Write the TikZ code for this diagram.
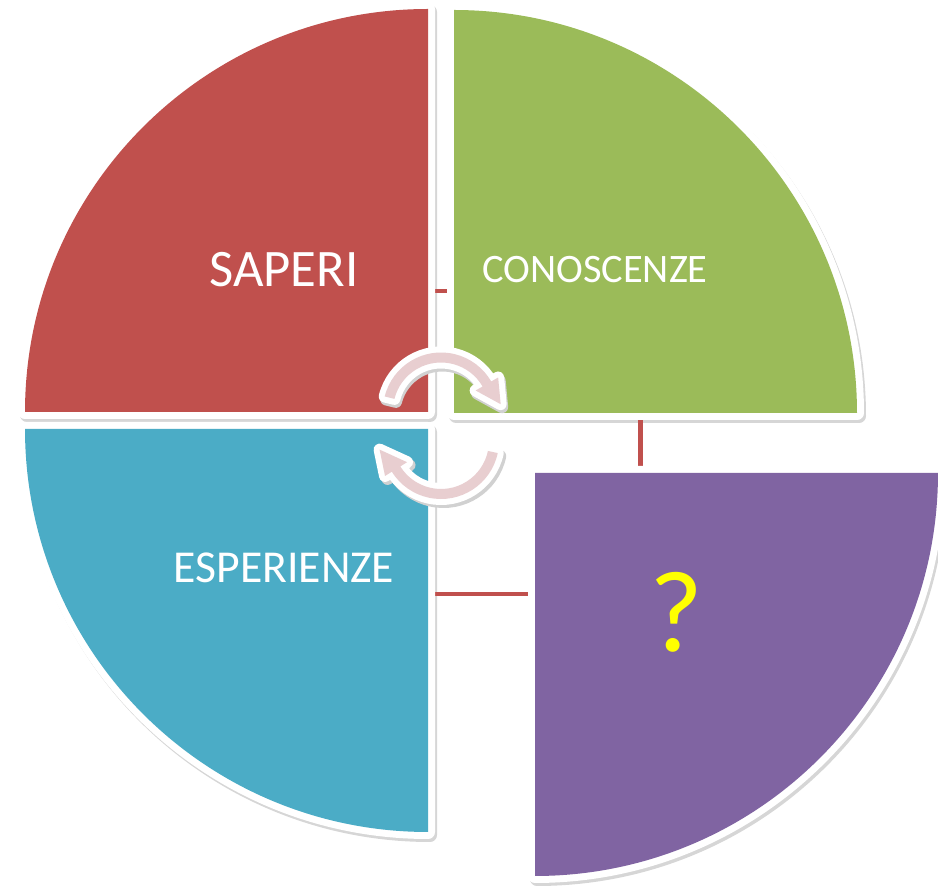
\documentclass[tikz,border=0pt]{standalone}
\usepackage{fontspec}
\setmainfont{Carlito}
\definecolor{qred}{HTML}{C0504D}
\definecolor{qgreen}{HTML}{9BBB59}
\definecolor{qblue}{HTML}{4BACC6}
\definecolor{qpurple}{HTML}{8064A2}
\definecolor{apink}{RGB}{232,206,208}
\definecolor{qyellow}{HTML}{FFFF00}
\newcommand\cyclearrow[6]{%
  \path[#6] ([shift={(#2:58)}]#1) arc[start angle=#2, end angle=#3, radius=58]
    -- ([shift={(#3:66)}]#1) -- ([shift={(#4:#5)}]#1) -- ([shift={(#3:40)}]#1)
    -- ([shift={(#3:48)}]#1) arc[start angle=#3, end angle=#2, radius=48] -- cycle;}
\tikzset{
  qshadow/.style={fill=black!16, draw=black!16, line width=0.28cm, line join=round},
  qborder/.style={fill=white, draw=white, line width=0.28cm, line join=round},
  link/.style={draw=qred, line width=0.09cm},
  qlabel/.style={text=white, anchor=base, inner sep=0pt},
  ashadow/.style={fill=black!18, draw=black!18, line width=0.24cm, line join=round},
  aborder/.style={fill=white, draw=white, line width=0.24cm, line join=round},
  abody/.style={fill=apink}
}
\begin{document}
\begin{tikzpicture}[x=0.02cm, y=0.02cm]
\useasboundingbox (0,0) rectangle (938,886);
\clip (0,0) rectangle (938,886);
% shadows
\foreach \cx/\cy/\a in {428/474/90, 454/473/0, 428/457/180, 535/413/270}{
  \path[qshadow] (\cx+2,\cy-3) -- ++(\a:403) arc[start angle=\a, delta angle=90, radius=403] -- cycle;
}
% connector lines behind the quadrants
\coordinate (l1a) at (415,595); \coordinate (l1b) at (470,595);
\coordinate (l2a) at (640.5,490); \coordinate (l2b) at (640.5,400);
\coordinate (l3a) at (415,292); \coordinate (l3b) at (550,292);
\draw[link] (l1a) -- (l1b);
\draw[link] (l2a) -- (l2b);
\draw[link] (l3a) -- (l3b);
% white borders
\foreach \cx/\cy/\a in {428/474/90, 454/473/0, 428/457/180, 535/413/270}{
  \path[qborder] (\cx,\cy) -- ++(\a:403) arc[start angle=\a, delta angle=90, radius=403] -- cycle;
}
% fills
\foreach \cx/\cy/\a/\col in {428/474/90/qred, 454/473/0/qgreen, 428/457/180/qblue, 535/413/270/qpurple}{
  \path[fill=\col] (\cx,\cy) -- ++(\a:403) arc[start angle=\a, delta angle=90, radius=403] -- cycle;
}
% labels
\node[qlabel, font=\fontsize{30}{36}\selectfont] (saperi) at (284,599) {SAPERI};
\node[qlabel, font=\fontsize{23}{28}\selectfont] (conosc) at (595,603) {CONOSCENZE};
\node[qlabel, font=\fontsize{26}{31}\selectfont] (esper) at (284,303) {ESPERIENZE};
\node[qlabel, text=qyellow, font=\fontsize{66}{76}\selectfont] (quest) at (676,234) {?};
% cycle arrows
\cyclearrow{442.5,472.5}{166}{30}{6}{60}{ashadow}
\cyclearrow{443.5,442}{-12}{-148}{-172}{62}{ashadow}
\cyclearrow{441,475.5}{166}{30}{6}{60}{aborder}
\cyclearrow{441,445}{-12}{-148}{-172}{62}{aborder}
\cyclearrow{441,475.5}{166}{30}{6}{60}{abody}
\cyclearrow{441,445}{-12}{-148}{-172}{62}{abody}
\end{tikzpicture}
\end{document}
